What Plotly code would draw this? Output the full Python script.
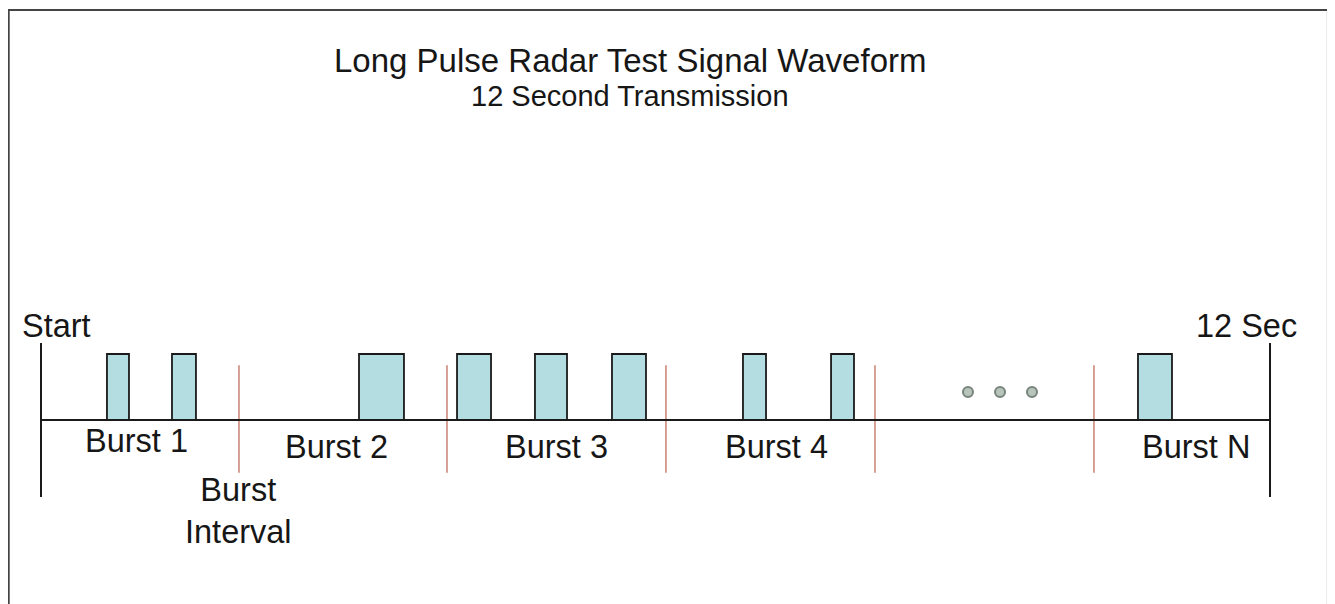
import plotly.graph_objects as go

# ---- data (time in seconds, amplitude in arbitrary units) ----
pulse_start = [0.644, 1.279, 3.105, 4.062, 4.823, 5.575, 6.854, 7.714, 10.711]
pulse_end = [0.859, 1.513, 3.544, 4.394, 5.136, 5.907, 7.079, 7.938, 11.043]
pulse_amp = [1, 1, 1, 1, 1, 1, 1, 1, 1]

divider_t = [1.933, 3.964, 6.102, 8.143, 10.281]
divider_span = [-0.80, 0.83]

dots_t = [9.051, 9.364, 9.676]
dots_amp = [0.424, 0.424, 0.424]

transmission = [0, 12]          # Start .. 12 Sec
edge_span = [-1.167, 1.167]

burst_labels = ["Burst 1", "Burst 2", "Burst 3", "Burst 4", "Burst N"]
burst_label_t = [0.928, 2.890, 5.038, 7.186, 11.277]
burst_label_y = [-0.318, -0.409, -0.409, -0.409, -0.409]

interval_label = "Burst<br>Interval"
interval_label_t = 1.924
edge_labels = ["Start", "12 Sec"]
edge_label_t = [0.156, 11.775]

title_text = "Long Pulse Radar Test Signal Waveform"
subtitle_text = "12 Second Transmission"

FONT = "Liberation Sans, Arial, sans-serif"
TXT = "#161616"
W, H = 1327, 596   # page body has an 8px margin

fig = go.Figure()

# pulses as bars
fig.add_trace(go.Bar(
    x=[(s + e) / 2 for s, e in zip(pulse_start, pulse_end)],
    y=pulse_amp,
    width=[e - s for s, e in zip(pulse_start, pulse_end)],
    base=0,
    marker=dict(color="#b3dde1", line=dict(color="#1a1a1a", width=1.8)),
    hoverinfo="skip",
))

# burst interval dividers
dx, dy = [], []
for t in divider_t:
    dx += [t, t, None]
    dy += [divider_span[0], divider_span[1], None]
fig.add_trace(go.Scatter(x=dx, y=dy, mode="lines",
                         line=dict(color="#c98272", width=1.5), hoverinfo="skip"))

# baseline
fig.add_trace(go.Scatter(x=transmission, y=[0, 0], mode="lines",
                         line=dict(color="#1a1a1a", width=2), hoverinfo="skip"))

# start / end markers
ex, ey = [], []
for t in transmission:
    ex += [t, t, None]
    ey += [edge_span[0], edge_span[1], None]
fig.add_trace(go.Scatter(x=ex, y=ey, mode="lines",
                         line=dict(color="#1a1a1a", width=2), hoverinfo="skip"))

# ellipsis dots
fig.add_trace(go.Scatter(x=dots_t, y=dots_amp, mode="markers",
                         marker=dict(size=10, color="#b7c4bc",
                                     line=dict(color="#76847c", width=2)),
                         hoverinfo="skip"))

LAB = 32.5
annotations = []
for lab, t, y in zip(burst_labels, burst_label_t, burst_label_y):
    annotations.append(dict(x=t, y=y, xref="x", yref="y", text=lab, showarrow=False,
                            xanchor="center", yanchor="middle",
                            font=dict(family=FONT, size=LAB, color=TXT)))
annotations.append(dict(x=interval_label_t, y=-1.379, xref="x", yref="y",
                        text=interval_label, showarrow=False, align="center",
                        xanchor="center", yanchor="middle",
                        font=dict(family=FONT, size=LAB, color=TXT)))
for lab, t in zip(edge_labels, edge_label_t):
    annotations.append(dict(x=t, y=1.43, xref="x", yref="y", text=lab, showarrow=False,
                            xanchor="center", yanchor="middle",
                            font=dict(family=FONT, size=LAB, color=TXT)))
annotations.append(dict(x=0.46835, y=0.9111, xref="paper", yref="paper", text=title_text,
                        showarrow=False, xanchor="center", yanchor="middle",
                        font=dict(family=FONT, size=33, color=TXT)))
annotations.append(dict(x=0.46835, y=0.8524, xref="paper", yref="paper", text=subtitle_text,
                        showarrow=False, xanchor="center", yanchor="middle",
                        font=dict(family=FONT, size=29, color=TXT)))

fig.update_layout(
    width=W, height=H,
    margin=dict(l=0, r=0, t=0, b=0),
    paper_bgcolor="white", plot_bgcolor="white",
    showlegend=False,
    annotations=annotations,
    shapes=[dict(type="rect", xref="paper", yref="paper",
                 x0=0.6 / W, x1=1320 / W, y0=-0.2, y1=1 - 2 / H,
                 line=dict(color="#444444", width=2.2), fillcolor="rgba(0,0,0,0)")],
    xaxis=dict(range=[-0.3222, 12.6346], visible=False, fixedrange=True),
    yaxis=dict(range=[-2.7879, 6.2424], visible=False, fixedrange=True),
)

fig.write_html("out.html")
